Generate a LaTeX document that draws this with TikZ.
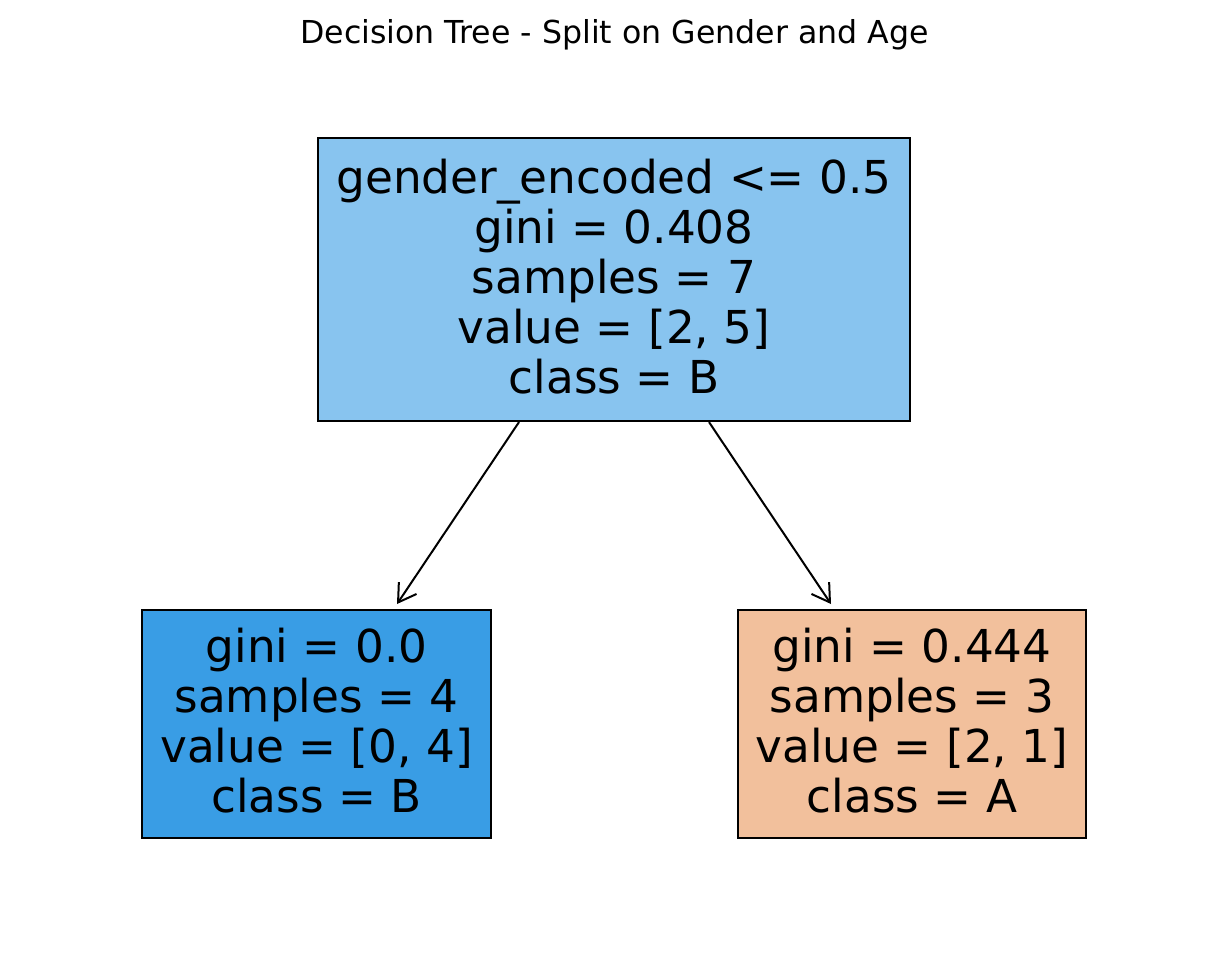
\documentclass[tikz,border=0pt]{standalone}
\usepackage{fontspec}
\setmainfont{DejaVu Sans}
\usetikzlibrary{arrows.meta}
\definecolor{rootfill}{HTML}{88C4EF}
\definecolor{leftfill}{HTML}{399DE5}
\definecolor{rightfill}{HTML}{F2C09C}
\begin{document}
\begin{tikzpicture}[x=0.75pt,y=-0.75pt,
  treebox/.style={draw=black,line width=1.6pt,inner sep=0pt},
  treetext/.style={inner sep=0pt,align=center,yshift=2.25pt,
    font=\fontsize{34}{37.5}\selectfont},
  edge/.style={line width=1.5pt,-{Straight Barb[length=13pt,width=16pt,line width=1.5pt]}}]
\useasboundingbox (0,0) rectangle (1228,965);
\node[font=\fontsize{23.7}{28}\selectfont] (title) at (614.5,35) {Decision Tree - Split on Gender and Age};
\node[treebox,fill=rootfill,minimum width=592*0.75pt,minimum height=283*0.75pt] (root) at (614,279.5) {};
\node[treetext] (roottext) at (root)
  {gender\_encoded <= 0.5\\gini = 0.408\\samples = 7\\value = [2, 5]\\class = B};
\node[treebox,fill=leftfill,minimum width=349*0.75pt,minimum height=228*0.75pt] (left) at (316.5,724) {};
\node[treetext] (lefttext) at (left)
  {gini = 0.0\\samples = 4\\value = [0, 4]\\class = B};
\node[treebox,fill=rightfill,minimum width=348*0.75pt,minimum height=228*0.75pt] (right) at (912,724) {};
\node[treetext] (righttext) at (right)
  {gini = 0.444\\samples = 3\\value = [2, 1]\\class = A};
\coordinate (lend) at (397,604);
\coordinate (rend) at (831,604);
\draw[edge] (root.south -| 519,0) -- (lend);
\draw[edge] (root.south -| 709,0) -- (rend);
\end{tikzpicture}
\end{document}
